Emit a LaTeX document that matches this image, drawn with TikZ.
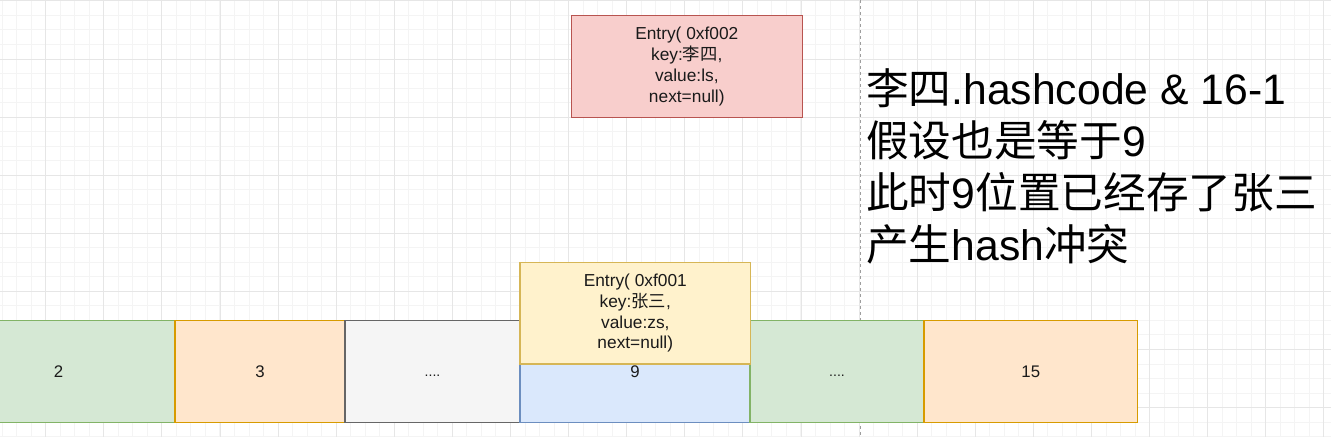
\documentclass[tikz,border=0pt]{standalone}
\usepackage{fontspec}
\setmainfont{Liberation Sans}
\newfontfamily\cjk{Noto Sans CJK SC}
\definecolor{gmajor}{HTML}{E6E6E6}
\definecolor{gminor}{HTML}{F4F4F4}
\definecolor{greenF}{HTML}{D5E8D4}\definecolor{greenS}{HTML}{82B366}
\definecolor{orangeF}{HTML}{FFE6CC}\definecolor{orangeS}{HTML}{D79B00}
\definecolor{grayF}{HTML}{F5F5F5}\definecolor{grayS}{HTML}{666666}
\definecolor{blueF}{HTML}{DAE8FC}\definecolor{blueS}{HTML}{6C8EBF}
\definecolor{yellowF}{HTML}{FFF2CC}\definecolor{yellowS}{HTML}{D6B656}
\definecolor{redF}{HTML}{F8CECC}\definecolor{redS}{HTML}{B85450}
\definecolor{txt}{HTML}{1A1A1A}
\begin{document}
\begin{tikzpicture}[x=0.75pt,y=-0.75pt,
  minorline/.style={draw=gminor,line width=0.6pt},
  majorline/.style={draw=gmajor,line width=0.6pt},
  cell/.style={draw,line width=1.1pt,inner sep=0pt,minimum height=76.5pt,text=txt,
    font=\fontsize{12.6}{15}\selectfont},
  dots/.style={font=\fontsize{10.5}{12}\selectfont},
  entrybox/.style={draw,line width=1.1pt,inner sep=0pt,align=center,text=txt,
    font=\fontsize{13}{15.6}\selectfont},
  divider/.style={draw=black!38,line width=0.75pt,dash pattern=on 2.25pt off 2.25pt},
  note/.style={anchor=base west,inner sep=0pt,align=left,text=black,
    font=\fontsize{32}{39}\selectfont}]
\useasboundingbox (0,0) rectangle (1331,437);
\clip (0,0) rectangle (1331,437);
\fill[white] (0,0) rectangle (1331,437);
% grid
\foreach \i in {0,...,91} \draw[minorline] ({2+14.525*\i},0) -- ({2+14.525*\i},437);
\foreach \i in {0,...,30} \draw[minorline] (0,{0.8+14.525*\i}) -- (1331,{0.8+14.525*\i});
\foreach \i in {0,...,22} \draw[majorline] ({45.6+58.1*\i},0) -- ({45.6+58.1*\i},437);
\foreach \i in {0,...,7} \draw[majorline] (0,{0.8+58.1*\i}) -- (1331,{0.8+58.1*\i});
% divider
\coordinate (dtop) at (860.3,0);
\coordinate (dbot) at (860.3,437);
\draw[divider] (dtop) -- (dbot);
% array cells
\node[cell,fill=greenF,draw=greenS,minimum width=174.75pt] (c2) at (58.5,371.5) {2};
\node[cell,fill=orangeF,draw=orangeS,minimum width=127.5pt] (c3) at (260,371.5) {3};
\node[cell,dots,fill=grayF,draw=grayS,minimum width=131.25pt] (c4) at (432.5,371.5) {\vphantom{0}....};
\node[cell,fill=blueF,draw=blueS,minimum width=172.5pt] (c9) at (635,371.5) {9};
\node[cell,dots,fill=greenF,draw=greenS,minimum width=130.5pt] (c10) at (837,371.5) {\vphantom{0}....};
\node[cell,fill=orangeF,draw=orangeS,minimum width=160.1pt] (c15) at (1030.75,371.5) {15};
% entries
\node[entrybox,fill=yellowF,draw=yellowS,minimum width=173pt,minimum height=76pt] (e1) at (635.3,313.3)
  {Entry( 0xf001\\key:{\cjk 张三},\\value:zs,\\next=null)};
\node[entrybox,fill=redF,draw=redS,minimum width=173.25pt,minimum height=76.5pt] (e2) at (686.8,66.7)
  {Entry( 0xf002\\key:{\cjk 李四},\\value:ls,\\next=null)};
% note
\node[note] (txtnote) at (866,260.5)
  {{\cjk 李四}.hashcode \& 16-1\\{\cjk 假设也是等于}9\\{\cjk 此时}9{\cjk 位置已经存了张三}\\{\cjk 产生}hash{\cjk 冲突}};
\end{tikzpicture}
\end{document}
